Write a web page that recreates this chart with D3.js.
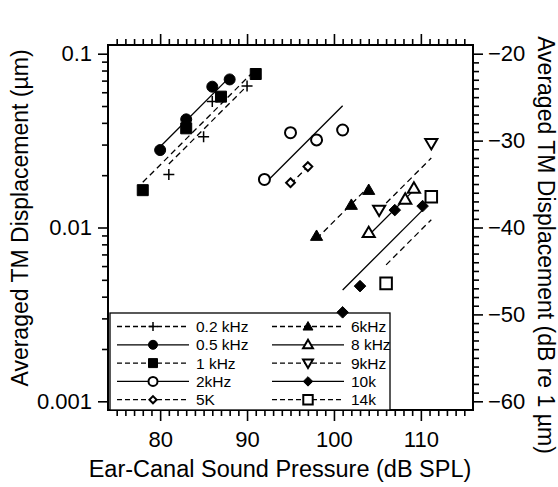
<!DOCTYPE html>
<html>
<head>
<meta charset="utf-8">
<script src="https://cdn.jsdelivr.net/npm/d3@7"></script>
<style>
  body { margin: 0; background: #fff; }
  svg { display: block; }
  text { font-family: "Liberation Sans", Arial, sans-serif; fill: #000; }
</style>
</head>
<body>
<svg id="chart" width="558" height="487"></svg>
<script>
// ---- data: ear-canal SPL (dB SPL) vs averaged TM displacement (µm) ----
const seriesNames = ["0.2 kHz", "0.5 kHz", "1 kHz", "2kHz", "5K",
                     "6kHz", "8 kHz", "9kHz", "10k", "14k"];

const splValues = [
  [81, 85, 86, 90],          // 0.2 kHz
  [80, 83, 86, 88],          // 0.5 kHz
  [78, 83, 87, 91],          // 1 kHz
  [92, 95, 98, 101],         // 2 kHz
  [95, 97],                  // 5K
  [98, 102, 104],            // 6 kHz
  [104, 108.2, 109.2],       // 8 kHz
  [105.2, 111.2],            // 9 kHz
  [101, 103, 107, 110.2],    // 10k
  [106, 111.2]               // 14k
];

const dispValues = [
  [0.0202, 0.0333, 0.0530, 0.0652],
  [0.0279, 0.0419, 0.0646, 0.0711],
  [0.0164, 0.0372, 0.0566, 0.0764],
  [0.0189, 0.0351, 0.0319, 0.0364],
  [0.0181, 0.0224],
  [0.00893, 0.01347, 0.01642],
  [0.00933, 0.01452, 0.0168],
  [0.0126, 0.0305],
  [0.00325, 0.0046, 0.01259, 0.01328],
  [0.00477, 0.01501]
];

// unity-slope growth fits: displacement (dB re 1 µm) = SPL + offset
const fitOffsets = [-113.7, -110.7, -112.8, -127.0, -130.0,
                    -139.3, -144.9, -143.2, -148.2, -150.3];

const xMajorTicks = [80, 90, 100, 110];
const leftMajorTicks = [0.1, 0.01, 0.001];
const leftTickLabels = ["0.1", "0.01", "0.001"];
const rightMajorTicks = [-20, -30, -40, -50, -60];

const xTitle = "Ear-Canal Sound Pressure (dB SPL)";
const yLeftTitle = "Averaged TM Displacement (µm)";
const yRightTitle = "Averaged TM Displacement (dB re 1 µm)";

// ---- styling per series ----
const markerType = ["plus", "circle", "square", "circle", "diamond",
                    "triUp", "triUp", "triDown", "diamond", "square"];
const markerFilled = [true, true, true, false, false, true, false, false, true, false];
const markerScale = [1, 1, 1, 1, 0.8, 1.05, 1.05, 1.05, 1.05, 1.05];
const dashed = [true, false, true, false, true, true, false, true, false, true];

// ---- layout ----
const svg = d3.select("#chart");
const L = 108, R = 473, T = 45, B = 410;
const dbMin = -61, dbMax = -19;

const x = d3.scaleLinear().domain([74, 116]).range([L, R]);
const yDb = d3.scaleLinear().domain([dbMin, dbMax]).range([B, T]);
const yLog = d3.scaleLog()
  .domain([Math.pow(10, dbMin / 20), Math.pow(10, dbMax / 20)])
  .range([B, T]);

// marker path centred on the origin
function markerPath(type, s) {
  const p = d3.path();
  if (type === "plus") {
    p.moveTo(-s, 0); p.lineTo(s, 0); p.moveTo(0, -s); p.lineTo(0, s);
  } else if (type === "circle") {
    p.arc(0, 0, s, 0, 2 * Math.PI);
  } else if (type === "square") {
    p.rect(-s, -s, 2 * s, 2 * s);
  } else if (type === "diamond") {
    p.moveTo(0, -s); p.lineTo(s, 0); p.lineTo(0, s); p.lineTo(-s, 0); p.closePath();
  } else if (type === "triUp") {
    p.moveTo(0, -s * 1.05); p.lineTo(s * 1.05, s * 0.75); p.lineTo(-s * 1.05, s * 0.75); p.closePath();
  } else if (type === "triDown") {
    p.moveTo(0, s * 1.05); p.lineTo(s * 1.05, -s * 0.75); p.lineTo(-s * 1.05, -s * 0.75); p.closePath();
  }
  return p.toString();
}

function drawMarker(g, i, cx, cy, s) {
  const filled = markerFilled[i];
  const t = markerType[i];
  g.append("path")
    .attr("d", markerPath(t, s * markerScale[i]))
    .attr("transform", `translate(${cx},${cy})`)
    .attr("fill", t === "plus" ? "none" : (filled ? "#000" : "#fff"))
    .attr("stroke", "#000")
    .attr("stroke-width", t === "plus" ? 1.5 : (filled ? 1 : 2))
    .attr("stroke-linejoin", "miter");
}

// ---- axes ----
function logTicks() {
  const out = [];
  for (let e = -3; e <= -1; e++) {
    for (let m = 1; m <= 9; m++) {
      const v = m * Math.pow(10, e);
      if (v <= 0.1 + 1e-12) out.push(v);
    }
  }
  return out;
}
const leftMinor = logTicks().filter(v => !leftMajorTicks.some(m => Math.abs(m - v) < 1e-12));
const xMinor = d3.range(75, 116).filter(v => !xMajorTicks.includes(v));
const rightMinor = d3.range(-60, -19).filter(v => !rightMajorTicks.includes(v));

function styleAxis(g) {
  g.select(".domain").remove();
  g.selectAll(".tick line").attr("stroke", "#000").attr("stroke-width", 1.6);
  g.selectAll(".tick text").style("font-size", "22px").attr("fill", "#000");
}

// bottom
svg.append("g").attr("transform", `translate(0,${B})`)
  .call(d3.axisBottom(x).tickValues(xMinor).tickSize(6).tickFormat(""))
  .call(styleAxis);
svg.append("g").attr("transform", `translate(0,${B})`)
  .call(d3.axisBottom(x).tickValues(xMajorTicks).tickSize(11).tickPadding(10).tickFormat(d3.format("d")))
  .call(styleAxis);
// top
svg.append("g").attr("transform", `translate(0,${T})`)
  .call(d3.axisTop(x).tickValues(xMinor).tickSize(6).tickFormat(""))
  .call(styleAxis);
svg.append("g").attr("transform", `translate(0,${T})`)
  .call(d3.axisTop(x).tickValues(xMajorTicks).tickSize(11).tickFormat(""))
  .call(styleAxis);
// left (log, µm)
svg.append("g").attr("transform", `translate(${L},0)`)
  .call(d3.axisLeft(yLog).tickValues(leftMinor).tickSize(6).tickFormat(""))
  .call(styleAxis);
svg.append("g").attr("transform", `translate(${L},0)`)
  .call(d3.axisLeft(yLog).tickValues(leftMajorTicks).tickSize(10).tickPadding(6)
    .tickFormat((d, i) => leftTickLabels[i]))
  .call(styleAxis);
// right (dB re 1 µm)
svg.append("g").attr("transform", `translate(${R},0)`)
  .call(d3.axisRight(yDb).tickValues(rightMinor).tickSize(6).tickFormat(""))
  .call(styleAxis);
svg.append("g").attr("transform", `translate(${R},0)`)
  .call(d3.axisRight(yDb).tickValues(rightMajorTicks).tickSize(10).tickPadding(5)
    .tickFormat(d3.format("d")))
  .call(styleAxis);

// frame
svg.append("rect")
  .attr("x", L).attr("y", T).attr("width", R - L).attr("height", B - T)
  .attr("fill", "none").attr("stroke", "#000").attr("stroke-width", 2);

// ---- legend (drawn beneath the data marks) ----
const legX = 110, legY = 313, legW = 280, legH = B - 313;
svg.append("rect")
  .attr("x", legX).attr("y", legY).attr("width", legW).attr("height", legH)
  .attr("fill", "#fff").attr("stroke", "#000").attr("stroke-width", 1.3);
const cols = [{ l0: 117, l1: 189, m: 153, tx: 196 }, { l0: 272, l1: 344, m: 308, tx: 351 }];
const rowY0 = 326.5, rowStep = 18.3;
seriesNames.forEach((name, i) => {
  const c = cols[Math.floor(i / 5)];
  const cy = rowY0 + (i % 5) * rowStep;
  const g = svg.append("g");
  g.append("line")
    .attr("x1", c.l0).attr("x2", c.l1).attr("y1", cy).attr("y2", cy)
    .attr("stroke", "#000").attr("stroke-width", 1.3)
    .attr("stroke-dasharray", dashed[i] ? "5,3" : null);
  drawMarker(g, i, c.m, cy, 4.5);
  g.append("text").attr("x", c.tx).attr("y", cy + 5.5)
    .style("font-size", "15.5px").text(name);
});

// ---- fit lines and points ----
const plot = svg.append("g");
seriesNames.forEach((name, i) => {
  const xs = splValues[i];
  const x0 = d3.min(xs), x1 = d3.max(xs);
  plot.append("line")
    .attr("x1", x(x0)).attr("y1", yDb(x0 + fitOffsets[i]))
    .attr("x2", x(x1)).attr("y2", yDb(x1 + fitOffsets[i]))
    .attr("stroke", "#000").attr("stroke-width", 1.3)
    .attr("stroke-dasharray", dashed[i] ? "6,4" : null);
});
seriesNames.forEach((name, i) => {
  splValues[i].forEach((s, k) => {
    drawMarker(plot, i, x(s), yLog(dispValues[i][k]), 5.5);
  });
});

// ---- titles ----
svg.append("text")
  .attr("x", 280).attr("y", 477)
  .attr("text-anchor", "middle").style("font-size", "23.5px")
  .text(xTitle);
svg.append("text")
  .attr("transform", `translate(28,218) rotate(-90)`)
  .attr("text-anchor", "middle").style("font-size", "23px")
  .text(yLeftTitle);
svg.append("text")
  .attr("transform", `translate(538,245) rotate(90)`)
  .attr("text-anchor", "middle").style("font-size", "23px")
  .text(yRightTitle);
</script>
</body>
</html>
